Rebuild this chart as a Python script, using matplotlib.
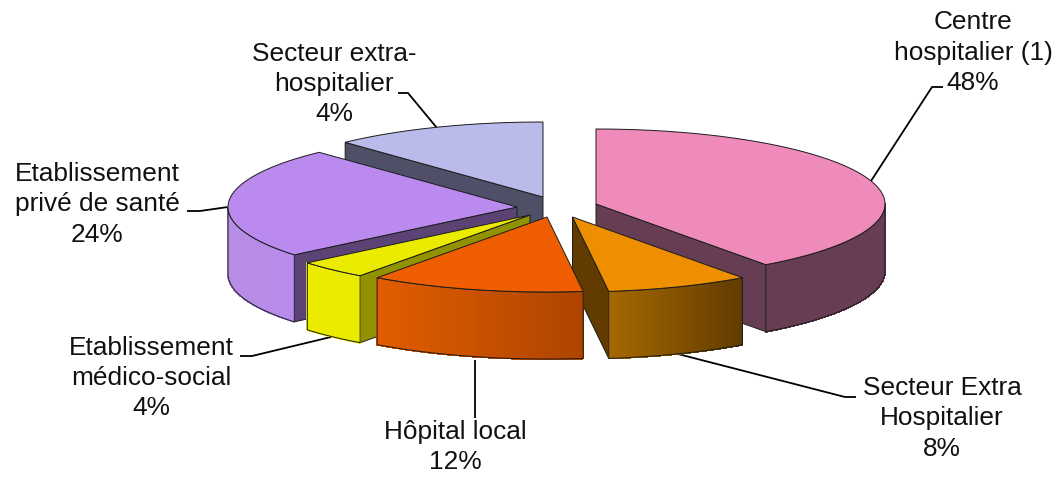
import numpy as np
import matplotlib
matplotlib.use("Agg")
import matplotlib.pyplot as plt
from matplotlib.colors import to_rgb
from matplotlib.patches import Polygon

# ---- data ----
categories = ["Centre\nhospitalier (1)", "Secteur Extra\nHospitalier", "Hôpital local",
              "Etablissement\nmédico-social", "Etablissement\nprivé de santé",
              "Secteur extra-\nhospitalier"]
drawn_shares = [40, 8, 12, 4, 24, 12]      # sweep of each slice as drawn
printed_percent = [48, 8, 12, 4, 24, 4]    # percentage printed in each label

# ---- styles / layout ----
plt.rcParams["font.family"] = ["Liberation Sans", "DejaVu Sans"]
RX, RY, DEPTH = 289, 75, 67
apexes = [(596, 204), (572.5, 217), (547, 217), (530, 215), (517, 207), (543, 197)]
top_col = ["#EE8BBA", "#EE8F00", "#EE5E00", "#EBEB00", "#BA8AEE", "#BABAEB"]
cut_col = ["#673D54", "#613B00", "#A84200", "#929200", "#5C4375", "#4F5068"]
side_l = ["#673D54", "#A56800", "#E25D00", "#EBEB00", "#B58DE2", "#BABAEB"]
side_r = ["#673D54", "#613B00", "#AD4400", "#EBEB00", "#BA8AEE", "#BABAEB"]
draw_order = [5, 4, 0, 3, 1, 2]
label_pos = [(973, 52.5), (942, 418.5), (455, 447), (151, 378), (97, 204.5), (334, 84)]
leaders = [[(871, 181), (932, 87), (943, 87)],
           [(678, 354), (845, 397), (856, 397)],
           [(475, 360), (475, 418)],
           [(331, 337), (252, 356), (240, 356)],
           [(228, 207), (200, 211), (187, 211)],
           [(437, 128), (408, 93), (398, 93)]]
EDGE = "#1c1c1c"

fig = plt.figure(figsize=(10.56, 4.78), dpi=100)
ax = fig.add_axes([0, 0, 1, 1])
ax.set_xlim(0, 1056)
ax.set_ylim(478, 0)
ax.axis("off")

cum = np.cumsum([0] + drawn_shares) / sum(drawn_shares) * 360.0


def rim(apex, deg):
    r = np.radians(deg)
    return np.column_stack([apex[0] + RX * np.sin(r), apex[1] - RY * np.cos(r)])


def shifted(pts):
    return pts + np.array([0, DEPTH])


for i in draw_order:
    a0, a1 = cum[i], cum[i + 1]
    apex = np.array(apexes[i], float)
    arc = rim(apex, np.linspace(a0, a1, 90))
    mid = rim(apex, [(a0 + a1) / 2])[0] * 0.6 + apex * 0.4
    z = 2 + draw_order.index(i)

    # radial cut faces, only where the slice lies above the edge on screen
    for ang in (a0, a1):
        p = rim(apex, [ang])[0]
        if abs(p[0] - apex[0]) < 1:
            continue
        t = (mid[0] - apex[0]) / (p[0] - apex[0])
        if apex[1] + t * (p[1] - apex[1]) > mid[1]:
            q = np.array([apex, p])
            ax.add_patch(Polygon(np.vstack([q, shifted(q)[::-1]]), closed=True,
                                 fc=cut_col[i], ec=EDGE, lw=0.7, zorder=z))

    # outer wall (front half of the rim only)
    lo, hi = max(a0, 90), min(a1, 270)
    if hi > lo:
        wall = rim(apex, np.linspace(lo, hi, 120))
        x0, x1 = wall[:, 0].min(), wall[:, 0].max()
        c_l, c_r = np.array(to_rgb(side_l[i])), np.array(to_rgb(side_r[i]))
        for j in range(len(wall) - 1):
            seg = wall[j:j + 2]
            f = (seg[:, 0].mean() - x0) / max(x1 - x0, 1)
            col = c_l + (c_r - c_l) * f
            ax.add_patch(Polygon(np.vstack([seg, shifted(seg)[::-1]]), closed=True,
                                 fc=col, ec=col, lw=0.8, antialiased=False, zorder=z))
        ax.add_patch(Polygon(np.vstack([wall, shifted(wall)[::-1]]), closed=True,
                             fc="none", ec=EDGE, lw=0.7, zorder=z))

    # top face
    ax.add_patch(Polygon(np.vstack([apex, arc]), closed=True, fc=top_col[i],
                         ec=EDGE, lw=0.7, joinstyle="miter", zorder=z))

for cat, pct, pos, lead in zip(categories, printed_percent, label_pos, leaders):
    ax.text(pos[0], pos[1], f"{cat}\n{pct}%", ha="center", va="center", fontsize=18.9,
            color="#111111", linespacing=1.33, zorder=20)
    xy = np.array(lead)
    ax.plot(xy[:, 0], xy[:, 1], color="black", lw=1.3, zorder=1,
            solid_capstyle="butt", solid_joinstyle="miter")

fig.savefig("out.png", dpi=100, facecolor="white")
